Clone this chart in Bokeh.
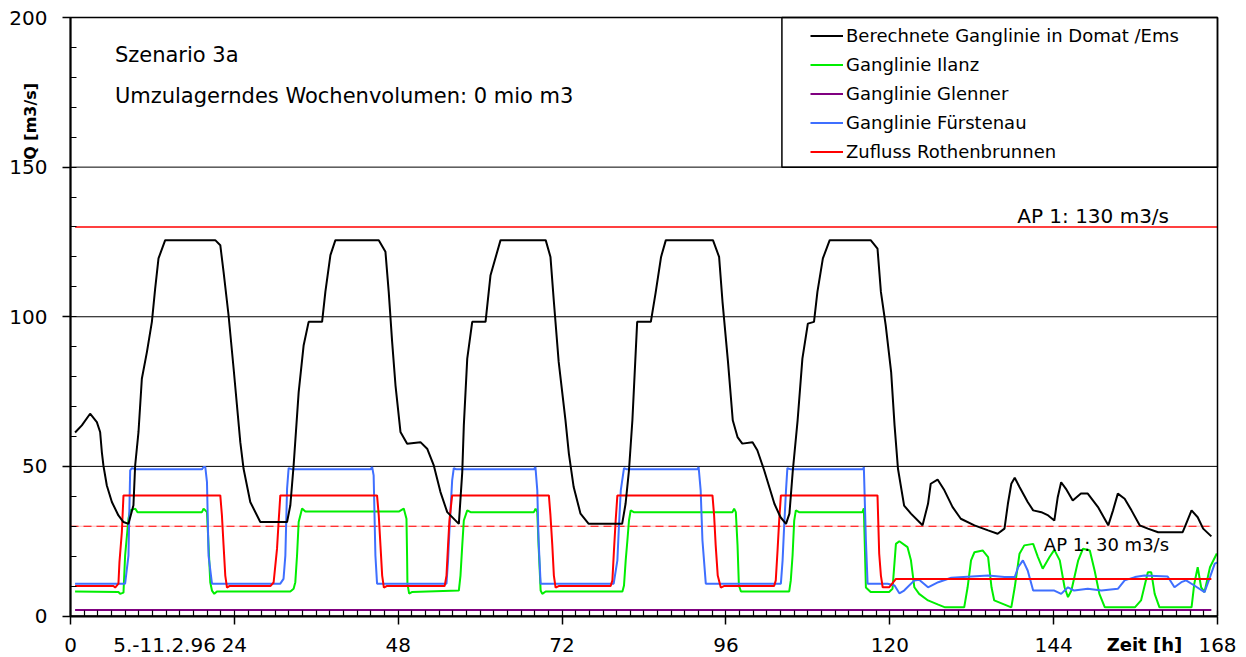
from bokeh.plotting import figure
from bokeh.models import (Range1d, FixedTicker, Legend, LegendItem, Label,
                          BoxAnnotation)
from bokeh.embed import file_html
from bokeh.resources import INLINE
import math

# ---- data: hour of week [h] and discharge Q [m3/s] ----
domat_h = [0.67, 1.66, 2.87, 3.86, 4.34, 4.59, 4.82, 5.32, 6.06, 7.02, 7.76, 8.49, 9.22, 9.47, 9.96,
           10.45, 11.19, 11.92, 12.4, 12.89, 13.87, 21.2, 21.94, 22.42, 23.15, 23.89, 24.87, 25.35,
           26.33, 27.8, 31.72, 32.2, 32.68, 33.42, 34.15, 34.88, 36.85, 37.33, 38.07, 38.8, 45.15,
           46.13, 46.61, 47.11, 47.6, 48.33, 49.31, 51.26, 52.24, 53.21, 54.19, 55.18, 56.88, 57.38,
           57.61, 58.11, 58.84, 60.79, 61.52, 62.99, 69.6, 70.3, 70.8, 71.5, 72.5, 73.0, 73.7, 74.7,
           75.9, 80.8, 81.3, 81.8, 82.3, 83.0, 85.0, 85.7, 86.5, 87.2, 94.1, 95.0, 95.5, 96.3, 97.0,
           97.7, 98.4, 99.9, 100.6, 101.6, 103.1, 104.0, 104.8, 105.3, 105.8, 106.5, 107.2, 108.0,
           108.9, 109.4, 110.2, 111.2, 117.2, 118.2, 118.7, 119.4, 120.2, 120.7, 121.2, 122.1, 123.1,
           124.8, 125.6, 126.0, 127.0, 128.0, 129.2, 130.4, 132.4, 134.4, 135.8, 136.8, 137.3, 137.8,
           138.3, 139.0, 140.2, 141.0, 142.2, 143.2, 144.1, 144.6, 145.1, 145.8, 146.8, 148.0, 149.0,
           150.5, 152.0, 152.7, 153.4, 154.4, 155.4, 156.6, 157.8, 159.3, 162.9, 163.4, 164.2, 165.1,
           165.9, 167.1]
domat_q = [61.3, 63.7, 67.6, 64.8, 61.5, 54.8, 50.3, 43.6, 38.1, 33.6, 31.4, 30.8, 37.0, 50.3, 61.5,
           79.3, 88.2, 98.3, 109.4, 119.5, 125.6, 125.6, 123.9, 115.0, 100.5, 82.7, 58.1, 49.2,
           38.1, 31.4, 31.4, 37.0, 50.3, 74.8, 90.5, 98.3, 98.3, 108.3, 120.6, 125.6, 125.6,
           121.7, 108.3, 91.6, 77.1, 61.5, 57.6, 58.1, 55.9, 50.3, 41.4, 34.7, 30.8, 48.1,
           63.7, 86.0, 98.3, 98.3, 113.9, 125.6, 125.6, 120.0, 105.0, 85.0, 65.4, 54.2, 43.1, 34.2,
           30.8, 30.8, 37.5, 48.7, 65.4, 98.3, 98.3, 108.0, 120.0, 125.6, 125.6, 120.0, 105.0, 85.0, 65.4,
           59.8, 57.6, 58.1, 55.4, 48.7, 37.5, 33.0, 30.8, 34.2, 48.7, 65.4, 86.0, 97.7,
           98.3, 108.3, 119.5, 125.6, 125.6, 122.8, 108.3, 97.2, 81.5, 63.7, 49.2, 36.9, 34.2,
           30.3, 37.5, 44.2, 45.6, 42.0, 36.4, 32.5, 30.3, 28.6, 27.5, 29.2, 37.5, 44.2,
           46.2, 43.1, 38.1, 35.3, 34.7, 33.6, 31.9, 39.7, 44.7, 42.5, 38.6, 40.9, 40.9,
           36.4, 30.3, 35.3, 40.9, 39.2, 35.3, 30.3, 29.2, 28.0, 28.0, 30.8, 35.3, 33.0,
           29.2, 26.6]

ilanz_h = [0.67, 7.02, 7.27, 7.76, 8.0, 8.49, 8.74, 9.47, 9.81, 19.25, 19.49, 19.99, 20.22, 20.47,
           20.72, 21.06, 21.45, 32.2, 32.68, 32.93, 33.18, 33.42, 33.92, 34.4, 48.08, 48.81, 49.21,
           49.3, 49.35, 49.6, 50.0, 56.88, 57.12, 57.38, 57.61, 58.11, 58.6, 67.87, 68.12, 68.37,
           68.56, 68.86, 69.1, 69.6, 80.84, 81.07, 81.32, 81.57, 81.8, 82.05, 82.5, 96.96, 97.2,
           97.45, 97.7, 97.9, 98.2, 105.27, 105.5, 105.76, 106.0, 106.24, 106.7, 116.0, 116.2,
           116.5, 117.2, 119.9, 120.4, 120.9, 121.4, 122.6, 123.1, 123.6, 124.3, 125.6, 127.1,
           128.1, 130.9, 131.4, 131.9, 132.4, 133.6, 134.4, 134.9, 135.3, 137.8, 138.3, 139.0,
           139.7, 141.0, 141.7, 142.4, 143.4, 144.1, 144.9, 145.6, 146.1, 146.6, 147.6, 148.3,
           149.3, 150.0, 150.7, 151.5, 155.9, 156.8, 157.8, 158.3, 158.8, 159.5, 164.2, 164.6,
           165.1, 165.6, 166.1, 166.9, 167.9]
ilanz_q = [8.2, 8.0, 7.4, 7.8, 20.2, 32.5, 35.3, 35.9, 34.7, 34.7, 35.9, 34.7, 23.6, 11.3,
           8.5, 7.4, 8.2, 8.2, 9.1, 11.3, 20.2, 31.4, 35.9, 34.9, 34.9, 35.9, 32.5,
           20.0, 10.8, 7.5, 8.0, 8.5, 13.5, 23.6, 31.9, 35.3, 34.7, 34.7, 35.9, 34.7,
           23.6, 8.5, 7.4, 8.2, 8.2, 10.2, 18.6, 25.3, 31.9, 35.3, 34.7, 34.7, 35.9,
           34.7, 23.6, 10.2, 8.2, 8.2, 11.9, 20.2, 31.9, 35.3, 34.7, 34.7, 36.0,
           9.5, 8.0, 8.0, 9.1, 24.1, 25.0, 23.0, 18.6, 9.6, 7.4, 5.2, 3.8,
           2.9, 2.9, 9.6, 18.6, 21.3, 21.9, 19.7, 9.6, 5.2, 2.9, 9.6, 20.8,
           23.6, 24.1, 19.7, 15.8, 19.7, 22.1, 18.6, 9.6, 6.3, 8.5, 18.6, 22.5,
           21.9, 15.2, 7.4, 2.9, 2.9, 5.2, 14.6, 14.6, 7.4, 2.9, 2.9, 10.8,
           16.3, 9.6, 8.0, 16.3, 20.9]

glenner_h = [0.67, 167.1]
glenner_q = [2.0, 2.0]

fuerstenau_h = [0.67, 8.0, 8.49, 8.74, 8.99, 9.72, 19.25, 19.49, 19.74, 19.99, 20.22, 20.72, 30.73,
                31.2, 31.47, 31.72, 31.95, 32.45, 43.95, 44.18, 44.4, 44.66, 44.9, 55.07, 55.3, 55.5,
                55.9, 56.14, 56.5, 67.87, 68.1, 68.37, 68.56, 68.86, 79.56, 80.1, 80.3, 80.6, 81.07,
                81.5, 91.83, 92.0, 92.3, 92.56, 93.05, 104.05, 104.3, 104.5, 104.8, 105.0, 105.5,
                116.1, 116.2, 116.5, 116.75, 119.7, 120.7, 121.4, 122.1, 123.6, 124.3, 125.6, 127.1,
                129.0, 134.4, 136.8, 138.3, 138.8, 139.5, 140.2, 141.0, 144.1, 145.1, 146.1, 147.0,
                149.0, 151.0, 153.4, 154.4, 155.9, 157.3, 160.7, 161.7, 162.7, 163.4, 164.6, 166.1,
                166.9, 167.6, 168.0]
fuerstenau_q = [10.8, 10.8, 20.2, 48.7, 49.4, 49.0, 49.0, 49.8, 49.8, 44.7, 20.2, 10.8, 10.8,
                12.4, 20.2, 42.5, 49.4, 49.0, 49.0, 49.8, 47.0, 20.2, 10.8, 10.8, 18.6, 28.6,
                45.3, 49.4, 49.0, 49.0, 49.8, 42.0, 25.3, 10.8, 10.8, 18.6, 28.6, 42.0, 49.4,
                49.0, 49.0, 49.8, 42.0, 25.3, 10.8, 10.8, 18.6, 28.6, 42.0, 49.4, 49.0,
                49.0, 49.8, 25.3, 10.8, 10.8, 10.2, 7.6, 8.5, 11.9, 12.1, 9.6, 11.3,
                12.8, 13.5, 13.0, 13.0, 16.3, 18.6, 15.2, 8.5, 8.5, 7.4, 9.6, 8.5,
                9.1, 8.5, 9.1, 11.9, 13.0, 13.5, 13.2, 9.6, 11.3, 11.9, 10.2, 8.0,
                13.0, 17.5, 17.9]

rothenbrunnen_h = [0.67, 6.29, 6.54, 7.02, 7.17, 7.52, 7.76, 21.94, 22.18, 22.42, 22.67, 22.92, 23.26,
                   29.27, 29.75, 30.25, 30.48, 30.73, 44.9, 45.15, 45.4, 45.65, 45.9, 46.3, 54.8,
                   55.07, 55.3, 55.5, 55.9, 70.07, 70.3, 70.57, 70.8, 71.05, 71.5, 79.12, 79.37,
                   79.6, 79.85, 80.1, 94.03, 94.27, 94.5, 94.8, 95.25, 95.7, 103.06, 103.3, 103.56,
                   103.8, 104.05, 118.2, 118.45, 118.7, 118.96, 119.9, 120.9, 167.1]
rothenbrunnen_q = [10.0, 10.0, 9.5, 10.8, 18.0, 28.0, 40.3, 40.3, 33.6, 23.6, 13.5, 9.5, 10.0,
                   10.0, 11.2, 22.5, 31.4, 40.3, 40.3, 33.6, 23.6, 13.5, 9.5, 10.0, 10.0,
                   13.5, 23.6, 31.9, 40.3, 40.3, 33.6, 23.6, 13.5, 9.5, 10.0, 10.0, 11.9,
                   21.9, 31.9, 40.3, 40.3, 33.6, 23.6, 13.5, 9.5, 10.0, 10.0, 11.9, 21.9,
                   31.9, 40.3, 40.3, 20.8, 13.5, 9.6, 9.6, 12.4, 12.4]

# alarm thresholds (AP 1)
ap130_h = [0.67, 168.0]
ap130_q = [130.0, 130.0]
ap30_h = [0.0, 167.1]
ap30_q = [30.0, 30.0]

x_ticks = [0, 24, 48, 72, 96, 120, 144, 168]
y_ticks = [0, 50, 100, 150, 200]
grid_q = [50, 100, 150]

X_MIN, X_MAX = 0, 168
Y_MIN, Y_MAX = 0, 200

FONT = "DejaVu Sans"

# the frame fills the whole canvas; the ranges leave room around the 0..168 / 0..200 area,
# and the axes are pinned to x=0 and y=0
p = figure(width=1246, height=657,
           x_range=Range1d(-10.253, 172.248), y_range=Range1d(-13.868, 205.681),
           output_backend="svg", toolbar_location=None,
           min_border_left=0, min_border_right=0, min_border_top=0, min_border_bottom=0)
p.background_fill_color = "white"
p.border_fill_color = "white"
p.outline_line_color = None
p.xgrid.visible = False
p.ygrid.visible = False

p.xaxis.fixed_location = Y_MIN
p.yaxis.fixed_location = X_MIN
p.xaxis.bounds = (X_MIN, X_MAX)
p.yaxis.bounds = (Y_MIN, Y_MAX)
p.xaxis.ticker = FixedTicker(ticks=x_ticks, minor_ticks=list(range(0, 169, 2)))
p.yaxis.ticker = FixedTicker(ticks=y_ticks, minor_ticks=list(range(0, 201, 10)))
for ax in (p.xaxis[0], p.yaxis[0]):
    ax.axis_line_color = "black"
    ax.axis_line_width = 2
    ax.major_tick_line_color = "black"
    ax.major_tick_line_width = 1.5
    ax.major_tick_in = 0
    ax.major_tick_out = 8
    ax.minor_tick_line_color = "black"
    ax.minor_tick_line_width = 1.2
    ax.minor_tick_in = 6
    ax.minor_tick_out = 0
    ax.major_label_text_font = FONT
    ax.major_label_text_font_size = "20px"
    ax.major_label_text_color = "black"
p.yaxis.major_label_standoff = 15
p.xaxis.major_label_standoff = 14

# horizontal grid lines
p.segment(x0=X_MIN, x1=X_MAX, y0=grid_q, y1=grid_q, line_color="black", line_width=1)

# threshold lines
p.line(ap130_h, ap130_q, line_color="#ff0000", line_width=1.5)
p.line(ap30_h, ap30_q, line_color="#ffb8b8", line_width=1)
p.line(ap30_h, ap30_q, line_color="#ff0000", line_width=1.2, line_dash="8 5")

# discharge series
r_gl = p.line(glenner_h, glenner_q, line_color="#800080", line_width=2)
r_il = p.line(ilanz_h, ilanz_q, line_color="#00ee00", line_width=2)
r_fu = p.line(fuerstenau_h, fuerstenau_q, line_color="#3f6fff", line_width=2)
r_ro = p.line(rothenbrunnen_h, rothenbrunnen_q, line_color="#ff0000", line_width=2)
r_do = p.line(domat_h, domat_q, line_color="black", line_width=2)

# plot border and legend frame
p.add_layout(BoxAnnotation(left=X_MIN, right=X_MAX, bottom=Y_MIN, top=Y_MAX,
                           fill_alpha=0, line_color="black", line_alpha=1.0, line_width=1.5))
p.add_layout(BoxAnnotation(left=104.2, right=X_MAX, bottom=150, top=Y_MAX,
                           fill_alpha=0, line_color="black", line_alpha=1.0, line_width=1.5))

legend = Legend(items=[
    LegendItem(label="Berechnete Ganglinie in Domat /Ems", renderers=[r_do]),
    LegendItem(label="Ganglinie Ilanz", renderers=[r_il]),
    LegendItem(label="Ganglinie Glenner", renderers=[r_gl]),
    LegendItem(label="Ganglinie Fürstenau", renderers=[r_fu]),
    LegendItem(label="Zufluss Rothenbrunnen", renderers=[r_ro]),
], location=(806, 487), margin=0, padding=4, spacing=0,
    glyph_width=33, glyph_height=29, label_height=29, label_standoff=3,
    label_text_font=FONT, label_text_font_size="18px", label_text_color="black",
    border_line_alpha=0, background_fill_alpha=0)
p.add_layout(legend)

# texts inside the plot area
p.add_layout(Label(x=6.5, y=187.5, text="Szenario 3a", text_font=FONT,
                   text_font_size="21px", text_baseline="middle", text_color="black"))
p.add_layout(Label(x=6.5, y=173.9, text="Umzulagerndes Wochenvolumen: 0 mio m3", text_font=FONT,
                   text_font_size="21px", text_baseline="middle", text_color="black"))
p.add_layout(Label(x=160.9, y=129.8, text="AP 1: 130 m3/s", text_font=FONT,
                   text_font_size="20px", text_align="right", text_baseline="bottom",
                   text_color="black"))
p.add_layout(Label(x=160.9, y=27.3, text="AP 1: 30 m3/s", text_font=FONT,
                   text_font_size="18px", text_align="right", text_baseline="top",
                   text_color="black"))

# axis titles and the date of the week
p.add_layout(Label(x=-5.86, y=165.3, text="Q [m3/s]", text_font=FONT, text_font_style="bold",
                   text_font_size="16px", angle=math.pi / 2, text_align="center",
                   text_baseline="middle", text_color="black"))
p.add_layout(Label(x=157.3, y=-9.6, text="Zeit [h]", text_font=FONT,
                   text_font_style="bold", text_font_size="18px", text_align="center",
                   text_baseline="middle", text_color="black"))
p.add_layout(Label(x=21.3, y=-9.6, text="5.-11.2.96", text_font=FONT,
                   text_font_size="20px", text_align="right",
                   text_baseline="middle", text_color="black"))

open("out.html", "w").write(file_html(p, INLINE))
